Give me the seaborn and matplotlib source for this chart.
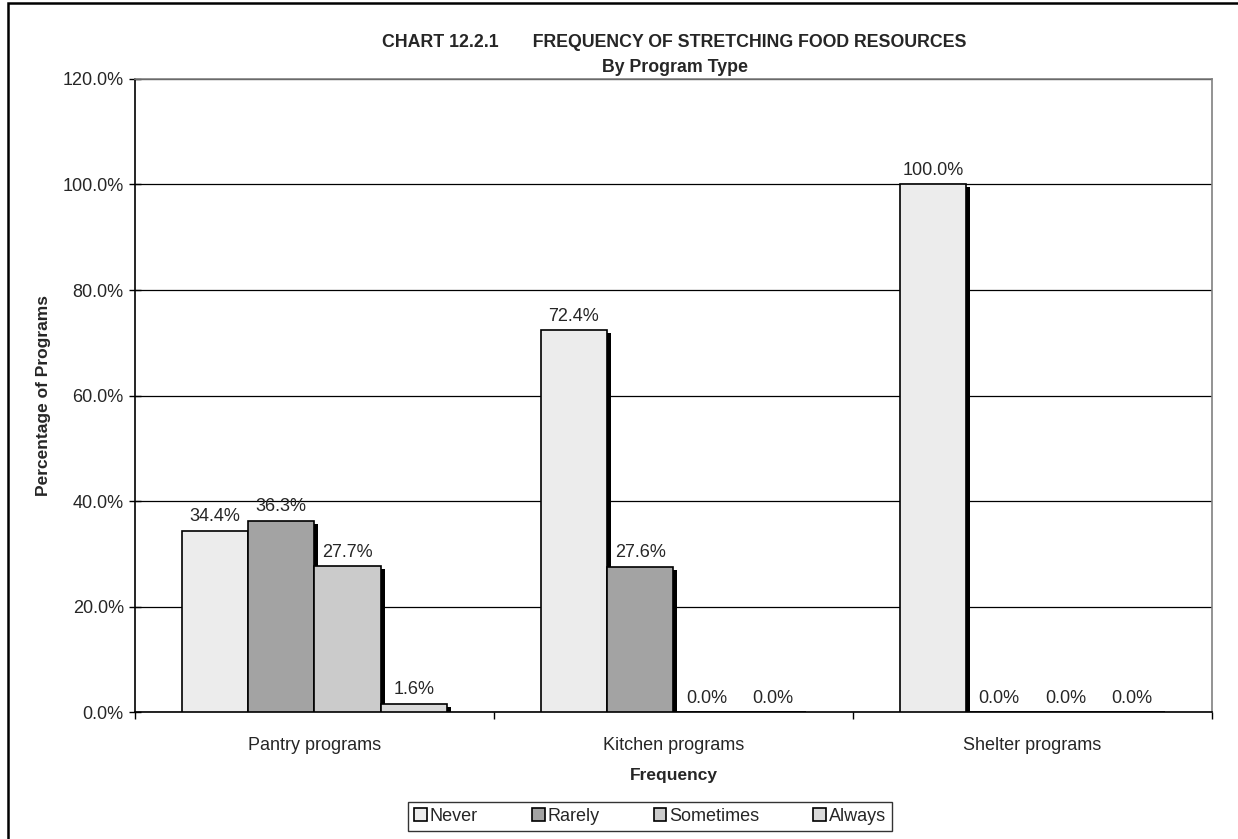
import matplotlib
matplotlib.use("Agg")
import matplotlib.pyplot as plt
import matplotlib.transforms as mtransforms
from matplotlib.patches import Rectangle
import seaborn as sns
import pandas as pd

programs = ["Pantry programs", "Kitchen programs", "Shelter programs"]
frequencies = ["Never", "Rarely", "Sometimes", "Always"]
never = [34.4, 72.4, 100.0]
rarely = [36.3, 27.6, 0.0]
sometimes = [27.7, 0.0, 0.0]
always = [1.6, 0.0, 0.0]

colors = ["#ececec", "#a3a3a3", "#cbcbcb", "#dadada"]

rows = []
for i, p in enumerate(programs):
    for f, vals in zip(frequencies, [never, rarely, sometimes, always]):
        rows.append({"Program": p, "Frequency": f, "Value": vals[i]})
df = pd.DataFrame(rows)

sns.set_style("white")
plt.rcParams["font.family"] = ["Liberation Sans", "DejaVu Sans"]

fig = plt.figure(figsize=(12.38, 8.39), dpi=100)
ax = fig.add_axes([0.109, 0.151, 0.870, 0.755])

sns.barplot(data=df, x="Program", y="Value", hue="Frequency", order=programs,
            hue_order=frequencies, palette=colors, width=0.74, edgecolor="black",
            linewidth=1.2, saturation=1, ax=ax, zorder=3, legend=True)

# drop shadows behind each bar
shadow_off = mtransforms.ScaledTranslation(4 / 100, -3 / 100, fig.dpi_scale_trans)
for bar in list(ax.patches):
    h = bar.get_height()
    if h <= 0:
        continue
    sh = Rectangle((bar.get_x(), bar.get_y()), bar.get_width(), h,
                   facecolor="black", edgecolor="none",
                   transform=ax.transData + shadow_off, zorder=2)
    ax.add_patch(sh)

for cont in ax.containers:
    ax.bar_label(cont, labels=[f"{v:.1f}%" for v in cont.datavalues],
                 padding=4, fontsize=13)

ax.set_ylim(0, 120)
ax.set_xlim(-0.5, 2.5)
ax.set_yticks(range(0, 121, 20))
ax.set_yticklabels([f"{t:.1f}%" for t in range(0, 121, 20)], fontsize=13)
ax.set_xticks([-0.5, 0.5, 1.5, 2.5], minor=True)
ax.tick_params(axis="x", which="major", labelsize=13, length=0, pad=18)
ax.tick_params(axis="x", which="minor", bottom=True, length=5, width=1,
               color="black", direction="out")
ax.tick_params(axis="y", left=True, length=9, width=1, color="black", direction="inout")
ax.yaxis.grid(True, color="black", linewidth=0.9, zorder=0)
ax.set_axisbelow(True)
for s in ax.spines.values():
    s.set_color("#808080")
    s.set_linewidth(1.2)
ax.spines["left"].set_color("black")
ax.spines["bottom"].set_color("black")

ax.set_xlabel("Frequency", fontsize=12.5, fontweight="bold", labelpad=10)
ax.set_ylabel("Percentage of Programs", fontsize=12.5, fontweight="bold", labelpad=8)

fig.text(0.545, 0.949, "CHART 12.2.1       FREQUENCY OF STRETCHING FOOD RESOURCES",
         ha="center", va="center", fontsize=12.8, fontweight="bold")
fig.text(0.545, 0.920, "By Program Type", ha="center", va="center",
         fontsize=12.8, fontweight="bold")

ax.get_legend().remove()
handles = [Rectangle((0, 0), 1, 1, facecolor=c, edgecolor="black", linewidth=1.2)
           for c in colors]
leg = fig.legend(handles, frequencies, loc="center", bbox_to_anchor=(0.525, 0.027),
                 ncol=4, frameon=True, fontsize=13, handlelength=0.7,
                 handleheight=0.7, handletextpad=0.15, columnspacing=3.0,
                 borderpad=0.35, borderaxespad=0, fancybox=False)
leg.get_frame().set_edgecolor("black")
leg.get_frame().set_linewidth(1)

fig.patches.append(Rectangle((0.0065, -0.01), 1.0, 1.006, transform=fig.transFigure,
                             fill=False, edgecolor="black", linewidth=1.8))

fig.savefig("out.png", dpi=100, facecolor="white")
